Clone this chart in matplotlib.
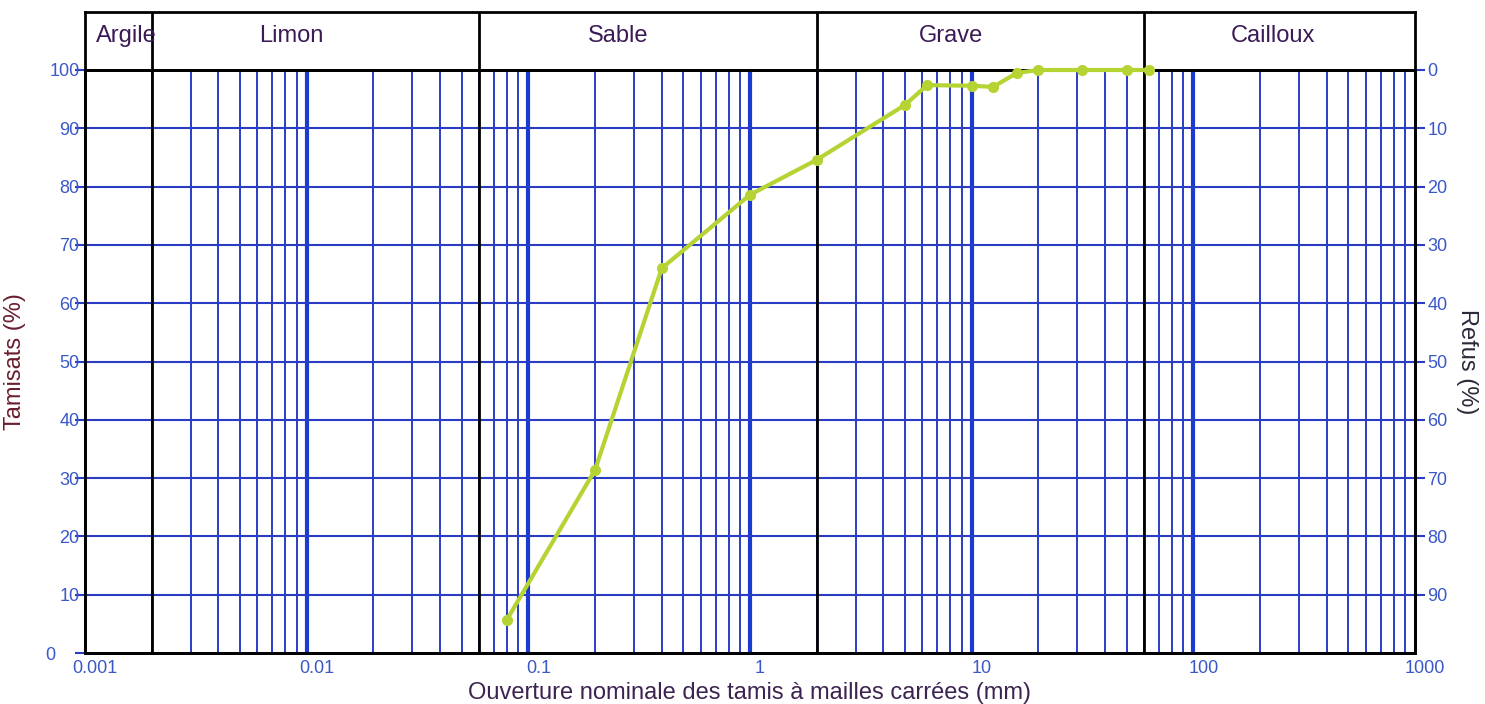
import numpy as np
import matplotlib.pyplot as plt
from matplotlib.transforms import ScaledTranslation

plt.rcParams['font.family'] = ['Liberation Sans', 'DejaVu Sans']

# granulometric curve: sieve openings (mm) and passing (%)
sieves = [0.08, 0.2, 0.4, 1, 2, 5, 6.3, 10, 12.5, 16, 20, 31.5, 50, 63]
passing = [5.7, 31.4, 66.0, 78.6, 84.6, 94.0, 97.4, 97.3, 97.1, 99.5, 100, 100, 100, 100]

# soil classes
class_names = ['Argile', 'Limon', 'Sable', 'Grave', 'Cailloux']
class_limits = [0.002, 0.06, 2, 60]
class_label_x = [0.00153, 0.0085, 0.254, 8.1, 228]

x_ticks = [0.001, 0.01, 0.1, 1, 10, 100, 1000]
x_ticklabels = ['0.001', '0.01', '0.1', '1', '10', '100', '1000']
y_ticks = list(range(0, 101, 10))

blue = '#2a3cc4'
tick_col = '#3a58c8'
green = '#b6d334'

fig = plt.figure(figsize=(14.85, 7.04), dpi=100)
ax = fig.add_axes([85/1485, 1-653/704, 1330/1485, 583/704])
band = fig.add_axes([85/1485, 1-70/704, 1330/1485, 58/704])

ax.set_xscale('log')
ax.set_xlim(0.001, 1000)
ax.set_ylim(0, 100)

# minor and decade grid lines
for k in range(-3, 3):
    for m in range(2, 10):
        ax.axvline(m*10.0**k, color=blue, lw=1.4, zorder=1)
for d in [0.01, 0.1, 1, 10, 100]:
    ax.axvline(d, color='#1a3ad0', lw=3, zorder=1)
for y in y_ticks[1:-1]:
    ax.axhline(y, color=blue, lw=1.5, zorder=1)
for lim in class_limits:
    ax.axvline(lim, color='black', lw=2, zorder=2)

ax.plot(sieves, passing, color=green, lw=3, marker='o', ms=7, zorder=5, clip_on=False)

for s in ax.spines.values():
    s.set_linewidth(2)
    s.set_color('black')

ax.set_xticks(x_ticks)
ax.set_xticklabels(x_ticklabels)
ax.xaxis.set_minor_locator(plt.NullLocator())
ax.tick_params(axis='x', length=0, pad=5, labelsize=13, labelcolor=tick_col)
for lab in ax.get_xticklabels():
    lab.set_transform(lab.get_transform() + ScaledTranslation(10/100, 0, fig.dpi_scale_trans))
ax.set_yticks(y_ticks)
ax.tick_params(axis='y', length=7, width=1.5, color=blue, pad=-3, labelsize=13, labelcolor=tick_col)
ylabs = ax.get_yticklabels()
ylabs[0].set_transform(ylabs[0].get_transform() + ScaledTranslation(-24/100, 0, fig.dpi_scale_trans))
ax.set_xlabel('Ouverture nominale des tamis à mailles carrées (mm)', fontsize=17, color='#3d2350', labelpad=4)
ax.set_ylabel('Tamisats (%)', fontsize=17, color='#6a1e2e', labelpad=14)

ax2 = ax.twinx()
ax2.set_ylim(100, 0)
ax2.set_yticks(y_ticks[:-1])
ax2.tick_params(axis='y', length=7, width=1.5, color=blue, pad=2, labelsize=13, labelcolor=tick_col)
ax2.set_ylabel('Refus (%)', fontsize=17, color='#2a2a3a', rotation=270, labelpad=22)
for s in ax2.spines.values():
    s.set_linewidth(2)

# keep the curve above the top band and twin spines
ax.set_zorder(3)
ax.patch.set_visible(False)
ax2.set_zorder(2)
band.set_zorder(1)

# class band on top
band.set_xscale('log')
band.set_xlim(0.001, 1000)
band.set_ylim(0, 1)
band.set_xticks([])
band.set_yticks([])
band.xaxis.set_minor_locator(plt.NullLocator())
for s in band.spines.values():
    s.set_linewidth(2)
for lim in class_limits:
    band.axvline(lim, color='black', lw=2)
for name, xl in zip(class_names, class_label_x):
    band.text(xl, 0.58, name, ha='center', va='center', fontsize=17, color='#3b1a55')

fig.savefig('out.png', dpi=100)
